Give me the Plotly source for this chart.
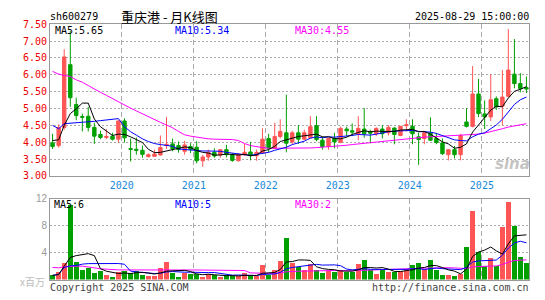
import plotly.graph_objects as go

months = [f"{y}-{m:02d}" for y in range(2019, 2026) for m in range(1, 13)][:80]

open_ = [3.98, 3.90, 4.44, 6.30, 5.12, 4.76, 4.77, 4.44, 4.23, 4.14,
         4.18, 4.09, 4.63, 3.81, 3.79, 3.76, 3.57, 3.58, 3.62, 3.90,
         3.95, 3.90, 3.73, 3.87, 3.85, 3.45, 3.56, 3.70, 3.62, 3.78,
         3.63, 3.45, 3.62, 3.71, 3.60, 3.68, 4.11, 3.82, 4.17, 4.28,
         4.01, 4.28, 4.09, 4.13, 4.49, 4.06, 3.87, 4.11, 4.00, 4.39,
         4.34, 4.25, 4.39, 4.30, 4.25, 4.39, 4.28, 4.42, 4.20, 4.49,
         4.47, 4.16, 4.11, 4.28, 4.11, 3.98, 3.63, 3.78, 3.63, 4.60,
         4.47, 5.43, 4.84, 4.75, 5.29, 5.07, 5.36, 6.02, 5.74, 5.62]
high = [4.25, 4.53, 6.76, 7.30, 5.32, 4.85, 5.05, 4.58, 4.34, 4.39,
        4.28, 4.65, 4.71, 4.11, 4.14, 3.90, 3.67, 3.78, 4.20, 4.75,
        4.11, 4.02, 4.04, 3.97, 4.03, 3.62, 3.78, 3.82, 3.78, 3.92,
        3.68, 3.68, 3.96, 4.01, 3.78, 4.41, 4.25, 4.58, 4.68, 5.41,
        4.34, 4.51, 4.37, 4.77, 4.77, 4.17, 4.13, 4.28, 4.46, 4.46,
        4.56, 4.77, 5.01, 4.37, 4.44, 4.51, 4.51, 4.44, 4.49, 4.68,
        4.68, 4.28, 4.32, 4.74, 4.28, 4.11, 3.78, 3.89, 4.25, 5.01,
        6.26, 5.88, 5.24, 6.02, 5.36, 6.14, 7.36, 7.06, 6.05, 5.95]
low = [3.80, 3.84, 4.37, 5.05, 4.65, 4.32, 4.32, 3.95, 4.09, 4.09,
       4.05, 3.99, 3.99, 3.43, 3.63, 3.54, 3.55, 3.58, 3.60, 3.80,
       3.73, 3.69, 3.63, 3.68, 3.37, 3.27, 3.45, 3.54, 3.54, 3.55,
       3.42, 3.43, 3.62, 3.46, 3.45, 3.68, 3.71, 3.80, 4.11, 3.70,
       3.94, 3.95, 4.06, 4.11, 4.03, 3.78, 3.78, 3.82, 3.97, 4.17,
       4.18, 4.06, 4.13, 3.97, 4.18, 4.11, 4.20, 3.94, 4.18, 4.32,
       3.94, 3.33, 3.94, 4.05, 3.94, 3.62, 3.46, 3.52, 3.46, 4.44,
       4.44, 4.75, 4.39, 4.63, 4.96, 4.51, 5.34, 5.60, 5.48, 5.46]
close = [3.87, 4.44, 6.53, 5.32, 4.79, 4.74, 4.44, 4.18, 4.14, 4.17,
         4.09, 4.63, 4.13, 3.79, 3.76, 3.64, 3.63, 3.65, 3.84, 3.94,
         3.80, 3.78, 3.92, 3.78, 3.45, 3.56, 3.70, 3.59, 3.78, 3.63,
         3.46, 3.63, 3.70, 3.60, 3.70, 4.09, 3.82, 4.17, 4.32, 3.97,
         4.28, 4.09, 4.28, 4.46, 4.08, 3.87, 4.11, 4.01, 4.41, 4.34,
         4.30, 4.41, 4.25, 4.27, 4.41, 4.25, 4.44, 4.23, 4.47, 4.52,
         4.25, 4.08, 4.28, 4.06, 3.99, 3.66, 3.78, 3.63, 4.20, 4.47,
         5.43, 4.85, 4.75, 5.26, 5.05, 5.34, 6.14, 5.74, 5.59, 5.58]
volume = [0.62, 1.14, 2.43, 11.1, 2.57, 1.43, 1.76, 1.00, 1.33, 0.71,
          0.43, 1.10, 1.33, 0.95, 1.33, 0.71, 0.57, 0.57, 1.76, 2.62,
          1.05, 0.43, 1.05, 0.86, 0.86, 0.43, 0.81, 0.62, 0.43, 0.62,
          0.52, 0.57, 1.00, 0.48, 0.52, 2.14, 0.71, 1.43, 2.71, 6.14,
          2.43, 1.90, 1.43, 2.38, 1.43, 1.05, 1.33, 1.14, 1.43, 1.19,
          1.19, 2.29, 2.86, 1.43, 0.86, 1.52, 1.14, 1.14, 1.33, 1.57,
          2.14, 2.43, 1.52, 2.86, 1.43, 0.71, 0.71, 0.57, 0.90, 4.86,
          10.14, 4.05, 2.00, 3.19, 2.00, 7.76, 11.57, 8.05, 3.43, 2.48]

ma5 = [4.05, 4.07, 4.50, 4.85, 4.99, 5.16, 5.16, 4.69, 4.46, 4.33,
       4.20, 4.24, 4.23, 4.16, 4.08, 3.99, 3.79, 3.69, 3.70, 3.74,
       3.77, 3.80, 3.86, 3.84, 3.75, 3.70, 3.68, 3.62, 3.62, 3.65,
       3.63, 3.62, 3.64, 3.60, 3.62, 3.74, 3.78, 3.88, 4.02, 4.07,
       4.11, 4.17, 4.19, 4.22, 4.24, 4.16, 4.16, 4.11, 4.10, 4.15,
       4.23, 4.29, 4.34, 4.31, 4.33, 4.32, 4.32, 4.32, 4.36, 4.38,
       4.38, 4.31, 4.32, 4.24, 4.13, 4.01, 3.95, 3.82, 3.85, 3.95,
       4.30, 4.52, 4.74, 4.95, 5.07, 5.05, 5.31, 5.51, 5.57, 5.65]
ma10 = [4.50, 4.40, 4.55, 4.56, 4.57, 4.58, 4.60, 4.62, 4.64, 4.66,
        4.68, 4.70, 4.46, 4.31, 4.21, 4.10, 4.02, 3.96, 3.93, 3.91,
        3.88, 3.80, 3.78, 3.77, 3.74, 3.74, 3.74, 3.74, 3.73, 3.70,
        3.67, 3.65, 3.63, 3.61, 3.64, 3.69, 3.70, 3.76, 3.81, 3.85,
        3.93, 3.97, 4.03, 4.12, 4.16, 4.13, 4.16, 4.15, 4.16, 4.19,
        4.20, 4.23, 4.22, 4.21, 4.24, 4.28, 4.31, 4.33, 4.34, 4.36,
        4.35, 4.32, 4.32, 4.30, 4.26, 4.20, 4.13, 4.07, 4.05, 4.04,
        4.16, 4.24, 4.28, 4.40, 4.51, 4.68, 4.91, 5.12, 5.26, 5.34]
ma30 = [6.10, 6.02, 5.98, 5.95, 5.85, 5.78, 5.68, 5.57, 5.48, 5.39,
        5.29, 5.19, 5.10, 5.01, 4.93, 4.84, 4.75, 4.67, 4.59, 4.51,
        4.43, 4.32, 4.22, 4.18, 4.15, 4.12, 4.10, 4.09, 4.09, 4.09,
        4.08, 4.05, 3.96, 3.90, 3.86, 3.84, 3.82, 3.82, 3.83, 3.82,
        3.81, 3.81, 3.82, 3.83, 3.84, 3.85, 3.86, 3.88, 3.89, 3.91,
        3.93, 3.95, 3.97, 3.99, 4.01, 4.03, 4.05, 4.07, 4.09, 4.11,
        4.12, 4.13, 4.15, 4.16, 4.17, 4.17, 4.18, 4.19, 4.20, 4.21,
        4.22, 4.24, 4.27, 4.31, 4.36, 4.40, 4.45, 4.49, 4.52, 4.55]

vma5 = [0.62, 0.75, 2.00, 3.30, 3.57, 3.73, 3.86, 3.57, 1.62, 1.25,
        1.05, 0.91, 0.98, 0.90, 1.03, 1.08, 0.98, 0.83, 0.99, 1.25,
        1.31, 1.29, 1.38, 1.20, 0.85, 0.73, 0.80, 0.72, 0.63, 0.58,
        0.60, 0.55, 0.63, 0.64, 0.62, 0.94, 0.97, 1.06, 1.50, 2.63,
        2.68, 2.92, 2.92, 2.86, 1.91, 1.64, 1.52, 1.47, 1.28, 1.23,
        1.26, 1.45, 1.79, 1.79, 1.73, 1.79, 1.56, 1.22, 1.20, 1.34,
        1.46, 1.72, 1.80, 2.10, 2.08, 1.79, 1.45, 1.26, 0.86, 1.55,
        3.44, 4.10, 4.39, 4.85, 4.28, 3.80, 5.30, 6.51, 6.56, 6.66]
vma10 = [0.62, 0.80, 1.80, 2.05, 2.10, 2.30, 2.38, 2.40, 2.40, 2.41,
         2.39, 2.39, 2.28, 1.26, 1.14, 1.07, 0.95, 0.90, 0.95, 1.14,
         1.20, 1.13, 1.10, 1.10, 1.05, 1.02, 1.04, 1.05, 0.92, 0.72,
         0.66, 0.68, 0.67, 0.63, 0.60, 0.77, 0.76, 0.84, 1.07, 1.62,
         1.81, 1.95, 1.99, 2.18, 2.27, 2.16, 2.22, 2.19, 2.07, 1.57,
         1.45, 1.49, 1.63, 1.53, 1.48, 1.52, 1.51, 1.51, 1.50, 1.53,
         1.63, 1.64, 1.51, 1.65, 1.71, 1.63, 1.58, 1.53, 1.48, 1.81,
         2.61, 2.78, 2.82, 2.86, 2.91, 3.62, 4.70, 5.45, 5.71, 5.47]
vma30 = [1.81, 1.75, 1.90, 2.00, 2.00, 2.00, 1.92, 1.75, 1.60, 1.52,
         1.47, 1.45, 1.44, 1.43, 1.43, 1.43, 1.43, 1.43, 1.43, 1.43,
         1.43, 1.43, 1.43, 1.43, 1.43, 1.43, 1.43, 1.43, 1.43, 1.42,
         1.42, 1.40, 1.35, 1.00, 0.93, 0.95, 0.92, 0.93, 0.98, 1.16,
         1.23, 1.25, 1.26, 1.30, 1.31, 1.32, 1.34, 1.36, 1.35, 1.30,
         1.31, 1.37, 1.43, 1.45, 1.45, 1.49, 1.50, 1.51, 1.54, 1.58,
         1.63, 1.69, 1.71, 1.79, 1.82, 1.77, 1.77, 1.74, 1.68, 1.64,
         1.90, 1.97, 1.99, 2.01, 2.03, 2.26, 2.60, 2.83, 2.89, 2.94]

year_ticks = ["2020-01-01", "2021-01-01", "2022-01-01", "2023-01-01", "2024-01-01", "2025-01-01"]
year_labels = ["2020", "2021", "2022", "2023", "2024", "2025"]
price_ticks = [3.0, 3.5, 4.0, 4.5, 5.0, 5.5, 6.0, 6.5, 7.0, 7.5]
vol_ticks = [4, 8, 12]

RED = "#ff5555"
GREEN = "#00a000"
MONO = "DejaVu Sans Mono"
W, H = 545, 300

xdates = [m + "-15" for m in months]
bar_colors = [RED if c >= o else GREEN for o, c in zip(open_, close)]

fig = go.Figure()
fig.add_trace(go.Candlestick(
    x=xdates, open=open_, high=high, low=low, close=close,
    increasing=dict(line=dict(color=RED, width=1), fillcolor=RED),
    decreasing=dict(line=dict(color=GREEN, width=1), fillcolor=GREEN),
    whiskerwidth=0, hoverinfo="skip", xaxis="x", yaxis="y", showlegend=False))
for vals, col in [(ma30, "#ff00ff"), (ma10, "#0000ff"), (ma5, "#000000")]:
    fig.add_trace(go.Scatter(x=xdates, y=vals, mode="lines",
                             line=dict(color=col, width=1), xaxis="x", yaxis="y",
                             hoverinfo="skip", showlegend=False))
fig.add_trace(go.Bar(x=xdates, y=volume, marker=dict(color=bar_colors, line=dict(width=0)),
                     width=25 * 86400000, xaxis="x2", yaxis="y2",
                     hoverinfo="skip", showlegend=False))
for vals, col in [(vma30, "#ff00ff"), (vma10, "#0000ff"), (vma5, "#000000")]:
    fig.add_trace(go.Scatter(x=xdates, y=vals, mode="lines",
                             line=dict(color=col, width=1), xaxis="x2", yaxis="y2",
                             hoverinfo="skip", showlegend=False))

xdom = [50 / W, 529 / W]
xrange_ = ["2019-01-02", "2025-08-28"]
common_x = dict(domain=xdom, type="date", range=xrange_, tickvals=year_ticks,
                showgrid=True, gridcolor="#aaaaaa", gridwidth=1, griddash="5px,3px",
                showline=True, mirror=True, linecolor="#999999", linewidth=1,
                zeroline=False, ticks="", fixedrange=True)

fig.update_layout(
    width=W, height=H, margin=dict(l=0, r=0, t=0, b=0),
    paper_bgcolor="white", plot_bgcolor="white",
    boxgap=0.12,
    xaxis=dict(**common_x, ticktext=year_labels, anchor="y",
               tickfont=dict(family=MONO, size=10, color="#1a8ad8"),
               rangeslider=dict(visible=False)),
    yaxis=dict(domain=[1 - 177 / H, 1 - 19 / H], range=[3.0, 7.5],
               tickvals=price_ticks, ticktext=[f"{v:.2f}" for v in price_ticks],
               tickfont=dict(family=MONO, size=10, color="#ee0000"),
               showgrid=True, gridcolor="#aaaaaa", griddash="2px,2px", gridwidth=1,
               showline=True, mirror=True, linecolor="#999999", linewidth=1,
               zeroline=False, ticks="", anchor="x", fixedrange=True),
    xaxis2=dict(**common_x, anchor="y2", showticklabels=False, matches="x"),
    yaxis2=dict(domain=[1 - 285 / H, 1 - 201 / H], range=[0, 12],
                tickvals=vol_ticks, ticktext=[str(v) for v in vol_ticks],
                tickfont=dict(family="Liberation Sans", size=10, color="#999999"),
                showgrid=True, gridcolor="#aaaaaa", griddash="2px,2px", gridwidth=1,
                showline=True, mirror=True, linecolor="#999999", linewidth=1,
                zeroline=False, ticks="", anchor="x2", fixedrange=True),
    bargap=0,
)


def ann(text, xpx, ypx, color="#000000", size=10, family=MONO, xanchor="left", **kw):
    fig.add_annotation(text=text, x=xpx / W, y=1 - ypx / H, xref="paper", yref="paper",
                       xanchor=xanchor, yanchor="middle", showarrow=False,
                       font=dict(family=family, size=size, color=color), **kw)


ann("sh600279", 48, 10.5)
ann("重庆港 - 月K线图", 119, 10.5, size=13, family="Noto Sans CJK SC")
ann("2025-08-29 15:00:00", 531, 11, xanchor="right")
ann(f"MA5:{ma5[-1]:.2f}", 53, 25)
ann(f"MA10:{ma10[-1]:.2f}", 173, 25, color="#0000ff")
ann(f"MA30:{ma30[-1]:.2f}", 293, 25, color="#ff00ff")
ann(f"MA5:{int(vma5[-1])}", 52, 207)
ann(f"MA10:{int(vma10[-1])}", 173, 207, color="#0000ff")
ann(f"MA30:{int(vma30[-1])}", 293, 207, color="#ff00ff")
ann("x百万", 47, 287, color="#bbbbbb", size=10, family="Noto Sans CJK SC", xanchor="right")
ann("Copyright 2025 SINA.COM", 48, 293, color="#444444")
ann("http://finance.sina.com.cn", 531, 293, color="#444444", xanchor="right")
ann("<b><i>sina</i></b>", 512, 165, color="rgba(170,170,170,0.7)", size=15,
    family="DejaVu Sans", xanchor="center")

fig.write_html("out.html", config={"displayModeBar": False, "staticPlot": True},
               post_script="document.body.style.margin='0';document.body.style.overflow='hidden';")
